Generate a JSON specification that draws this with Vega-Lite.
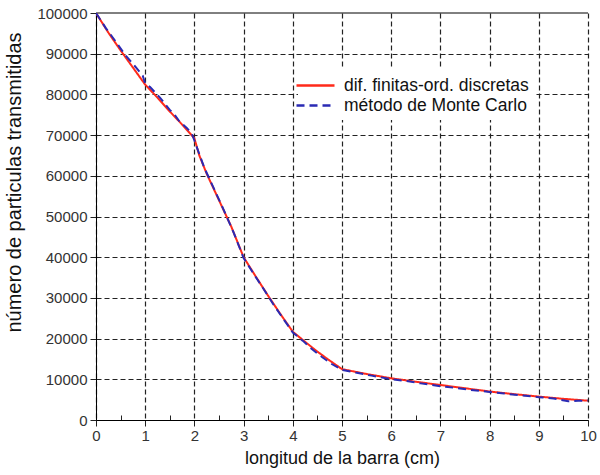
{
  "$schema": "https://vega.github.io/schema/vega-lite/v6.json",
  "width": 492,
  "height": 407,
  "autosize": "none",
  "padding": {"left": 96, "top": 13, "right": 12, "bottom": 55},
  "background": "white",
  "config": {
    "view": {"stroke": null},
    "font": "Liberation Sans",
    "axis": {
      "domainColor": "#000000",
      "domainWidth": 1,
      "tickColor": "#222222",
      "labelColor": "#333333",
      "labelFont": "Liberation Sans",
      "labelFontSize": 15,
      "titleFont": "Liberation Sans",
      "titleFontWeight": "normal",
      "titleColor": "#111111",
      "gridColor": "#222222",
      "gridDash": [5, 3],
      "gridWidth": 1.2
    }
  },
  "datasets": {
    "curves": [
      {"x": 0, "y": 100000, "serie": "dif. finitas-ord. discretas"},
      {"x": 0.25, "y": 95200, "serie": "dif. finitas-ord. discretas"},
      {"x": 0.5, "y": 90800, "serie": "dif. finitas-ord. discretas"},
      {"x": 0.75, "y": 86600, "serie": "dif. finitas-ord. discretas"},
      {"x": 1.0, "y": 82400, "serie": "dif. finitas-ord. discretas"},
      {"x": 1.25, "y": 79200, "serie": "dif. finitas-ord. discretas"},
      {"x": 1.5, "y": 75800, "serie": "dif. finitas-ord. discretas"},
      {"x": 1.75, "y": 72600, "serie": "dif. finitas-ord. discretas"},
      {"x": 2.0, "y": 69200, "serie": "dif. finitas-ord. discretas"},
      {"x": 2.1, "y": 65000, "serie": "dif. finitas-ord. discretas"},
      {"x": 2.25, "y": 60500, "serie": "dif. finitas-ord. discretas"},
      {"x": 2.5, "y": 54000, "serie": "dif. finitas-ord. discretas"},
      {"x": 2.75, "y": 47500, "serie": "dif. finitas-ord. discretas"},
      {"x": 3.0, "y": 40000, "serie": "dif. finitas-ord. discretas"},
      {"x": 3.25, "y": 35200, "serie": "dif. finitas-ord. discretas"},
      {"x": 3.5, "y": 30500, "serie": "dif. finitas-ord. discretas"},
      {"x": 3.75, "y": 26000, "serie": "dif. finitas-ord. discretas"},
      {"x": 4.0, "y": 21700, "serie": "dif. finitas-ord. discretas"},
      {"x": 4.25, "y": 19200, "serie": "dif. finitas-ord. discretas"},
      {"x": 4.5, "y": 16800, "serie": "dif. finitas-ord. discretas"},
      {"x": 4.75, "y": 14600, "serie": "dif. finitas-ord. discretas"},
      {"x": 5.0, "y": 12500, "serie": "dif. finitas-ord. discretas"},
      {"x": 5.5, "y": 11300, "serie": "dif. finitas-ord. discretas"},
      {"x": 6.0, "y": 10250, "serie": "dif. finitas-ord. discretas"},
      {"x": 6.5, "y": 9400, "serie": "dif. finitas-ord. discretas"},
      {"x": 7.0, "y": 8600, "serie": "dif. finitas-ord. discretas"},
      {"x": 7.5, "y": 7800, "serie": "dif. finitas-ord. discretas"},
      {"x": 8.0, "y": 7000, "serie": "dif. finitas-ord. discretas"},
      {"x": 8.5, "y": 6350, "serie": "dif. finitas-ord. discretas"},
      {"x": 9.0, "y": 5750, "serie": "dif. finitas-ord. discretas"},
      {"x": 9.5, "y": 5200, "serie": "dif. finitas-ord. discretas"},
      {"x": 10.0, "y": 4750, "serie": "dif. finitas-ord. discretas"},
      {"x": 0, "y": 100000, "serie": "método de Monte Carlo"},
      {"x": 0.2, "y": 96300, "serie": "método de Monte Carlo"},
      {"x": 0.4, "y": 93000, "serie": "método de Monte Carlo"},
      {"x": 0.6, "y": 89600, "serie": "método de Monte Carlo"},
      {"x": 0.8, "y": 86800, "serie": "método de Monte Carlo"},
      {"x": 0.95, "y": 84600, "serie": "método de Monte Carlo"},
      {"x": 1.0, "y": 82600, "serie": "método de Monte Carlo"},
      {"x": 1.1, "y": 81800, "serie": "método de Monte Carlo"},
      {"x": 1.3, "y": 79200, "serie": "método de Monte Carlo"},
      {"x": 1.5, "y": 76200, "serie": "método de Monte Carlo"},
      {"x": 1.6, "y": 75000, "serie": "método de Monte Carlo"},
      {"x": 1.7, "y": 73300, "serie": "método de Monte Carlo"},
      {"x": 1.85, "y": 71700, "serie": "método de Monte Carlo"},
      {"x": 1.95, "y": 70300, "serie": "método de Monte Carlo"},
      {"x": 2.05, "y": 67000, "serie": "método de Monte Carlo"},
      {"x": 2.2, "y": 62000, "serie": "método de Monte Carlo"},
      {"x": 2.4, "y": 56800, "serie": "método de Monte Carlo"},
      {"x": 2.6, "y": 51500, "serie": "método de Monte Carlo"},
      {"x": 2.8, "y": 46000, "serie": "método de Monte Carlo"},
      {"x": 3.0, "y": 39800, "serie": "método de Monte Carlo"},
      {"x": 3.2, "y": 36000, "serie": "método de Monte Carlo"},
      {"x": 3.4, "y": 32300, "serie": "método de Monte Carlo"},
      {"x": 3.6, "y": 28500, "serie": "método de Monte Carlo"},
      {"x": 3.8, "y": 25000, "serie": "método de Monte Carlo"},
      {"x": 4.0, "y": 21500, "serie": "método de Monte Carlo"},
      {"x": 4.2, "y": 19500, "serie": "método de Monte Carlo"},
      {"x": 4.4, "y": 17300, "serie": "método de Monte Carlo"},
      {"x": 4.6, "y": 15400, "serie": "método de Monte Carlo"},
      {"x": 4.8, "y": 13700, "serie": "método de Monte Carlo"},
      {"x": 5.0, "y": 12300, "serie": "método de Monte Carlo"},
      {"x": 5.3, "y": 11600, "serie": "método de Monte Carlo"},
      {"x": 5.6, "y": 10900, "serie": "método de Monte Carlo"},
      {"x": 6.0, "y": 10000, "serie": "método de Monte Carlo"},
      {"x": 6.3, "y": 9600, "serie": "método de Monte Carlo"},
      {"x": 6.6, "y": 9000, "serie": "método de Monte Carlo"},
      {"x": 7.0, "y": 8300, "serie": "método de Monte Carlo"},
      {"x": 7.3, "y": 7900, "serie": "método de Monte Carlo"},
      {"x": 7.6, "y": 7400, "serie": "método de Monte Carlo"},
      {"x": 8.0, "y": 6900, "serie": "método de Monte Carlo"},
      {"x": 8.3, "y": 6500, "serie": "método de Monte Carlo"},
      {"x": 8.6, "y": 6100, "serie": "método de Monte Carlo"},
      {"x": 9.0, "y": 5600, "serie": "método de Monte Carlo"},
      {"x": 9.3, "y": 5300, "serie": "método de Monte Carlo"},
      {"x": 9.6, "y": 4600, "serie": "método de Monte Carlo"},
      {"x": 9.8, "y": 4700, "serie": "método de Monte Carlo"},
      {"x": 10.0, "y": 4800, "serie": "método de Monte Carlo"}
    ]
  },
  "layer": [
    {
      "data": {"values": [{}]},
      "mark": {"type": "rule", "color": "#000000", "strokeWidth": 1},
      "encoding": {"y": {"datum": 100000, "type": "quantitative", "scale": {"domain": [0, 100000]}}}
    },
    {
      "data": {"name": "curves"},
      "mark": {"type": "line", "strokeWidth": 2, "clip": true},
      "encoding": {
        "x": {
          "field": "x",
          "type": "quantitative",
          "scale": {"domain": [0, 10], "nice": false},
          "axis": {
            "title": "longitud de la barra (cm)",
            "titleFontSize": 18,
            "titlePadding": 6,
            "values": [0, 0.5, 1, 1.5, 2, 2.5, 3, 3.5, 4, 4.5, 5, 5.5, 6, 6.5, 7, 7.5, 8, 8.5, 9, 9.5, 10],
            "labelExpr": "datum.value % 1 === 0 ? format(datum.value, 'd') : ''",
            "labelFlush": false,
            "labelPadding": 2,
            "grid": true,
            "gridOpacity": {"condition": {"test": "datum.value % 1 === 0", "value": 1}, "value": 0},
            "tickSize": {"condition": {"test": "datum.value % 1 === 0", "value": 6}, "value": -5}
          }
        },
        "y": {
          "field": "y",
          "type": "quantitative",
          "scale": {"domain": [0, 100000], "nice": false},
          "axis": {
            "title": "número de particulas transmitidas",
            "titleFontSize": 20,
            "titleX": -72,
            "titleY": 169,
            "values": [0, 5000, 10000, 15000, 20000, 25000, 30000, 35000, 40000, 45000, 50000, 55000, 60000, 65000, 70000, 75000, 80000, 85000, 90000, 95000, 100000],
            "labelExpr": "datum.value % 10000 === 0 ? format(datum.value, 'd') : ''",
            "labelFlush": false,
            "labelPadding": 3,
            "grid": true,
            "gridOpacity": {"condition": {"test": "datum.value % 10000 === 0 && datum.value < 100000", "value": 1}, "value": 0},
            "tickSize": {"condition": {"test": "datum.value % 10000 === 0", "value": 6}, "value": -5}
          }
        },
        "color": {
          "field": "serie",
          "type": "nominal",
          "scale": {"domain": ["dif. finitas-ord. discretas", "método de Monte Carlo"], "range": ["#ff2a1a", "#2a2ab4"]},
          "legend": {
            "title": null,
            "orient": "none",
            "legendX": 202,
            "legendY": 55,
            "padding": 6,
            "fillColor": "white",
            "symbolType": "M-1.9,0H1.9",
            "symbolSize": 400,
            "symbolStrokeWidth": 2.5,
            "symbolFillColor": "transparent",
            "labelFontSize": 17.5,
            "labelFont": "Liberation Sans",
            "labelColor": "#111111",
            "labelOffset": 17,
            "labelLimit": 0,
            "rowPadding": -1
          }
        },
        "strokeDash": {
          "field": "serie",
          "type": "nominal",
          "scale": {"domain": ["dif. finitas-ord. discretas", "método de Monte Carlo"], "range": [[1, 0], [8, 5]]},
          "legend": null
        }
      }
    }
  ]
}
